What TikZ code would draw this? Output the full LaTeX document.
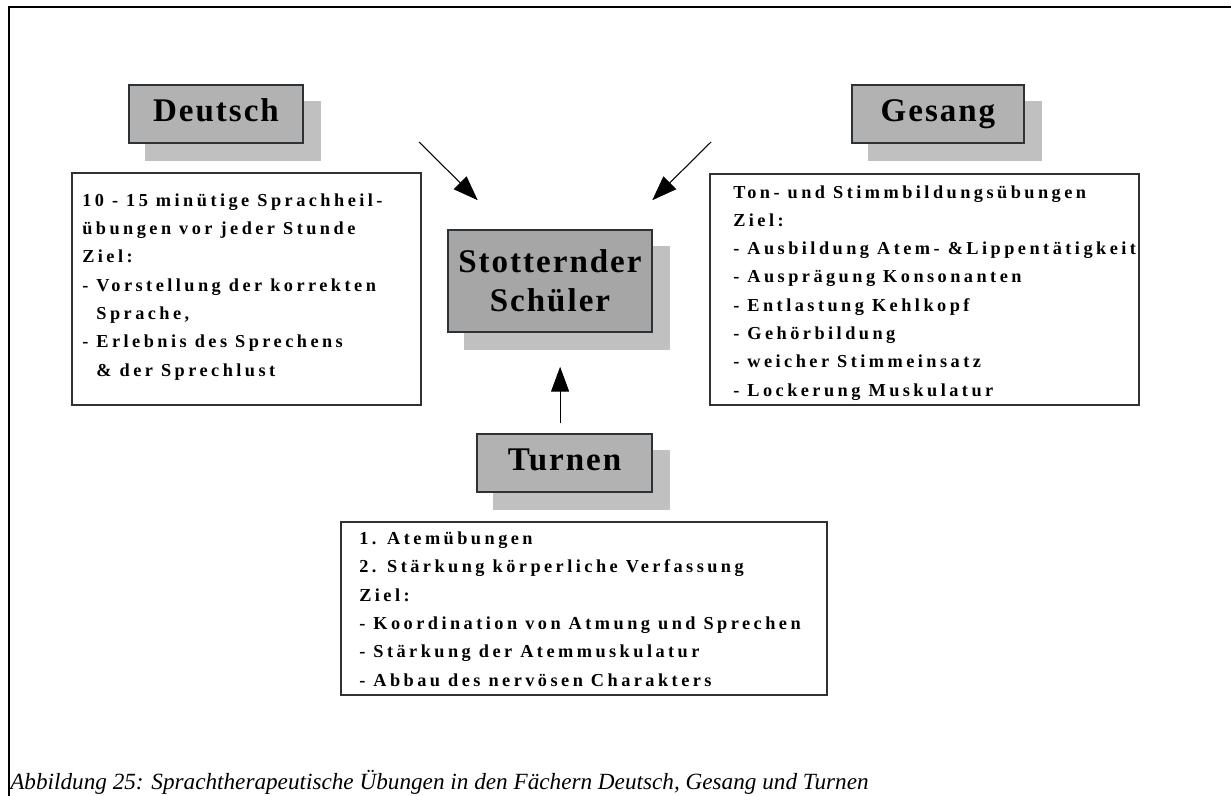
\documentclass[tikz,border=0pt]{standalone}
\usepackage{fontspec}
\setmainfont{Liberation Serif}
\newfontfamily\titlefont{Liberation Serif}[LetterSpace=6]
\newfontfamily\listfont{Liberation Serif}[LetterSpace=19]
\usetikzlibrary{arrows.meta, positioning, calc, backgrounds}
\definecolor{BoxGray}{RGB}{178,178,178}
\definecolor{CoreGray}{RGB}{166,166,166}
\definecolor{ShadowGray}{RGB}{192,192,192}
\definecolor{EdgeDark}{RGB}{45,50,54}

\tikzset{
  titlebox/.style={draw=EdgeDark, line width=1.1pt, fill=BoxGray,
    minimum height=1.45cm, text height=1.1em, text depth=0pt,
    font=\titlefont\fontsize{23.5}{28}\selectfont\bfseries},
  corebox/.style={draw=EdgeDark, line width=1.1pt, fill=CoreGray,
    minimum width=5.1cm, minimum height=2.55cm, align=center,
    font=\titlefont\fontsize{23.5}{27.7}\selectfont\bfseries},
  infobox/.style={draw=EdgeDark, line width=1.1pt, fill=white, anchor=north west},
  % base = baseline of the last line
  infotext/.style={inner sep=0pt, align=left, anchor=base west,
    font=\listfont\fontsize{13}{20.1}\selectfont\bfseries},
  arrow/.style={draw=black, line width=0.75pt,
    -{Triangle[length=0.62cm, width=0.45cm]}}
}

\begin{document}
\begin{tikzpicture}[x=0.025cm, y=-0.025cm]
  \useasboundingbox (0,0) rectangle (1231,796);
  \draw[line width=0.8pt] (9,796) |- (1231,7);

  % headings
  \node[titlebox, minimum width=4.35cm] (deutsch) at (216,114) {Deutsch};
  \node[titlebox, minimum width=4.3cm] (gesang) at (938,114) {Gesang};
  \node[titlebox, minimum width=4.38cm] (turnen) at (564.5,463) {Turnen};
  \node[corebox] (schueler) at (550,281) {Stotternder\\Schüler};

  \begin{scope}[on background layer]
    \foreach \n in {deutsch,gesang,turnen,schueler}
      \fill[ShadowGray] ($(\n.south west)+(17,17)$) rectangle ($(\n.north east)+(17,17)$);
  \end{scope}

  % text boxes
  \node[infobox, minimum width=8.725cm, minimum height=5.8cm] (deutschbox) at (71,172) {};
  \node[infobox, minimum width=10.725cm, minimum height=5.775cm] (gesangbox) at (709,173) {};
  \node[infobox, minimum width=12.15cm, minimum height=4.325cm] (turnenbox) at (340,521) {};

  \node[infotext] (deutschtext) at (82,376) {10 - 15 minütige Sprachheil-\\
    übungen vor jeder Stunde\\
    Ziel:\\
    - Vorstellung der korrekten\\
    \hphantom{- }Sprache,\\
    - Erlebnis des Sprechens\\
    \hphantom{- }\& der Sprechlust};
  \node[infotext] (gesangtext) at (733,396) {Ton- und Stimmbildungsübungen\\
    Ziel:\\
    - Ausbildung Atem- \&Lippentätigkeit\\
    - Ausprägung Konsonanten\\
    - Entlastung Kehlkopf\\
    - Gehörbildung\\
    - weicher Stimmeinsatz\\
    - Lockerung Muskulatur};
  \node[infotext] (turnentext) at (359,686) {1. Atemübungen\\
    2. Stärkung körperliche Verfassung\\
    Ziel:\\
    - Koordination von Atmung und Sprechen\\
    - Stärkung der Atemmuskulatur\\
    - Abbau des nervösen Charakters};

  % arrows
  \coordinate (deutschfrom) at (419,142);
  \coordinate (gesangfrom) at (711,142);
  \coordinate (turnenfrom) at ([xshift=-0.11cm]turnen.north);
  \draw[arrow, shorten >=1.03cm] (deutschfrom) -- ($(schueler.north)+(-43,0)$);
  \draw[arrow, shorten >=1.03cm] (gesangfrom) -- ($(schueler.north)+(73,0)$);
  \draw[arrow, shorten <=0.25cm, shorten >=0.85cm] (turnenfrom) -- (turnenfrom |- schueler.south);

  \node[anchor=base west, inner sep=0pt, font=\itshape\fontsize{16.5}{20}\selectfont] (caption) at (10,789)
    {Abbildung 25: Sprachtherapeutische Übungen in den Fächern Deutsch, Gesang und Turnen};
\end{tikzpicture}
\end{document}
